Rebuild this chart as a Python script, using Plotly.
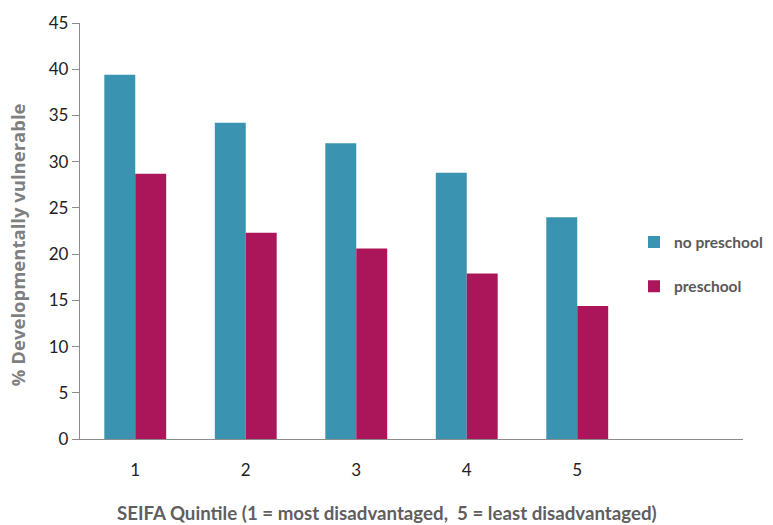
import plotly.graph_objects as go

quintiles = [1, 2, 3, 4, 5]
no_preschool = [39.4, 34.2, 32.0, 28.8, 24.0]
preschool = [28.7, 22.3, 20.6, 17.9, 14.4]
tick_labels = ["1", "2", "3", "4", "5"]

TEAL = "#3A93B0"
MAGENTA = "#AB1559"
GRAY = "#7F7F7F"
FONT = "Lato, Open Sans, sans-serif"

fig = go.Figure()
fig.add_bar(x=quintiles, y=no_preschool, name="no preschool",
            marker=dict(color=TEAL, line=dict(width=0)), legendgroup="a")
fig.add_bar(x=quintiles, y=preschool, name="preschool",
            marker=dict(color=MAGENTA, line=dict(width=0)), legendgroup="b")

fig.update_layout(
    width=773, height=525,
    margin=dict(l=80, r=30, t=23, b=86, autoexpand=False),
    paper_bgcolor="white", plot_bgcolor="white",
    barmode="group", bargap=0.44, bargroupgap=0,
    font=dict(family=FONT, color="#222222"),
    showlegend=True,
    legend=dict(x=0.8356, y=0.4195, xanchor="left", yanchor="middle",
                traceorder="grouped", tracegroupgap=21,
                font=dict(size=15.5, color="#595959", family=FONT, weight="bold"),
                itemwidth=30, bgcolor="rgba(0,0,0,0)"),
    xaxis=dict(range=[0.5, 6.5], tickvals=quintiles, ticktext=tick_labels,
               showline=True, linecolor="#8C8C8C", linewidth=1.3,
               showgrid=False, zeroline=False, ticks="", ticklabelstandoff=15,
               tickfont=dict(size=17, color="#222222")),
    yaxis=dict(range=[0, 45], dtick=5, showline=True, linecolor="#8C8C8C", linewidth=1.3,
               showgrid=False, zeroline=False, ticks="outside", ticklen=7,
               tickcolor="#8C8C8C", tickfont=dict(size=17, color="#222222")),
    annotations=[
        dict(text="% Developmentally vulnerable", xref="paper", yref="paper",
             x=-0.095, y=0.466, xanchor="center", yanchor="middle", textangle=-90,
             showarrow=False, font=dict(size=18.5, color=GRAY, family="Open Sans, sans-serif", weight="bold")),
        dict(text="SEIFA Quintile (1 = most disadvantaged,  5 = least disadvantaged)",
             xref="paper", yref="paper", x=0.4638, y=-0.178, xanchor="center", yanchor="middle",
             showarrow=False, font=dict(size=18.7, color="#5F5F5F", family=FONT, weight="bold")),
    ],
)

fig.write_html("out.html")
